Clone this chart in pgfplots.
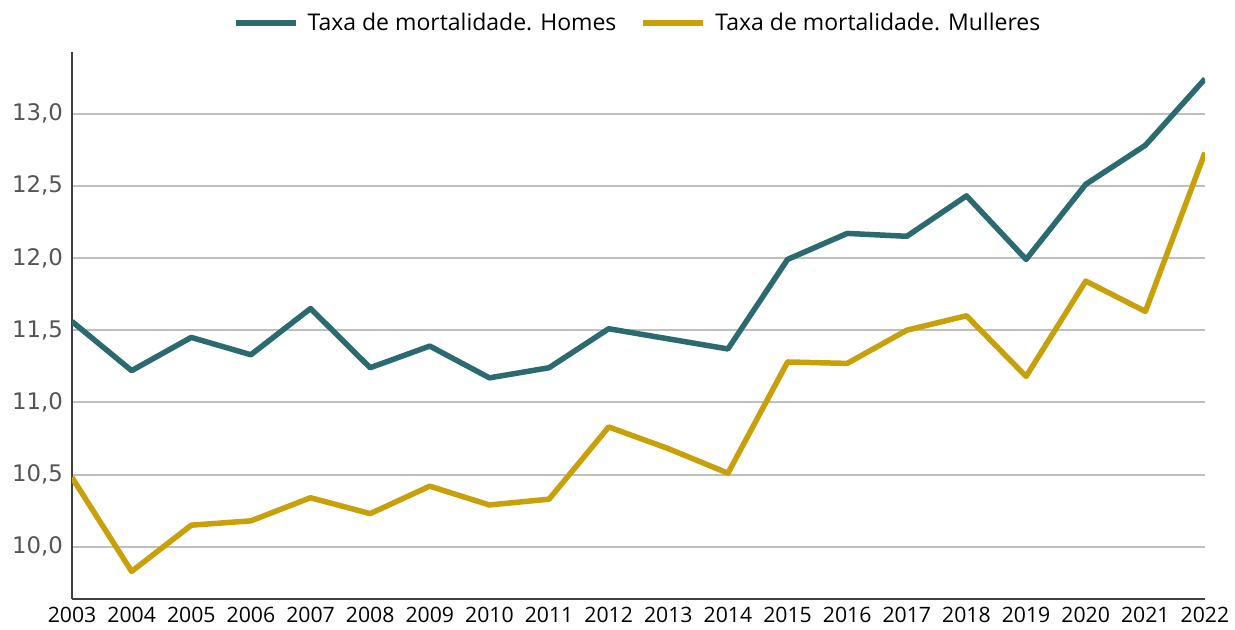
\documentclass[border=0pt]{standalone}
\usepackage{pgfplots}
\pgfplotsset{compat=1.18}
\usepackage{fontspec}
\setmainfont{Open Sans}
\newfontfamily\yfont{DejaVu Sans}
\definecolor{teal1}{HTML}{2B6A6E}
\definecolor{gold1}{HTML}{C8A10A}
\definecolor{gridc}{HTML}{BFBFBF}
\definecolor{axc}{HTML}{404040}
\definecolor{ylab}{HTML}{555555}
\newlength\px
\setlength\px{0.5pt}
\begin{document}
\begin{tikzpicture}
\useasboundingbox (-72\px,-31\px) rectangle (1163\px,599\px);
\begin{axis}[
  at={(0,0)}, anchor=south west,
  scale only axis, width=1133\px, height=547\px,
  xmin=2003, xmax=2022, ymin=9.639, ymax=13.426,
  axis x line=bottom, axis y line=left,
  axis line style={draw=axc, line width=2.5\px, -},
  xtick={2003,...,2022},
  ytick={10,10.5,11,11.5,12,12.5,13},
  major tick length=0pt,
  ymajorgrids, grid style={draw=gridc, line width=2\px},
  xticklabel style={font=\fontsize{10.6}{12}\selectfont, /pgf/number format/1000 sep={}, yshift=-1\px},
  yticklabel style={font=\yfont\fontsize{11.4}{13}\selectfont, color=ylab, xshift=-2\px,
     /pgf/number format/fixed, /pgf/number format/fixed zerofill,
     /pgf/number format/precision=1, /pgf/number format/use comma},
  /pgf/number format/assume math mode=true,
  legend columns=2,
  legend style={draw=none, at={(0.5,1)}, anchor=south, yshift=10\px,
     font=\fontsize{11.5}{13}\selectfont,
     /tikz/every odd column/.append style={column sep=5\px},
     /tikz/every even column/.append style={column sep=20\px}},
  legend image code/.code={\draw[#1, line width=6\px] (0,0) -- (60\px,0);},
  every axis plot/.append style={line width=5.5\px, line join=round},
]
\addplot[teal1] coordinates {
(2003,11.56) (2004,11.22) (2005,11.45) (2006,11.33) (2007,11.65)
(2008,11.24) (2009,11.39) (2010,11.17) (2011,11.24) (2012,11.51)
(2013,11.44) (2014,11.37) (2015,11.99) (2016,12.17) (2017,12.15)
(2018,12.43) (2019,11.99) (2020,12.51) (2021,12.78) (2022,13.24)};
\addlegendentry{Taxa de mortalidade. Homes}
\addplot[gold1] coordinates {
(2003,10.48) (2004,9.83) (2005,10.15) (2006,10.18) (2007,10.34)
(2008,10.23) (2009,10.42) (2010,10.29) (2011,10.33) (2012,10.83)
(2013,10.68) (2014,10.51) (2015,11.28) (2016,11.27) (2017,11.50)
(2018,11.60) (2019,11.18) (2020,11.84) (2021,11.63) (2022,12.73)};
\addlegendentry{Taxa de mortalidade. Mulleres}
\end{axis}
\end{tikzpicture}
\end{document}
